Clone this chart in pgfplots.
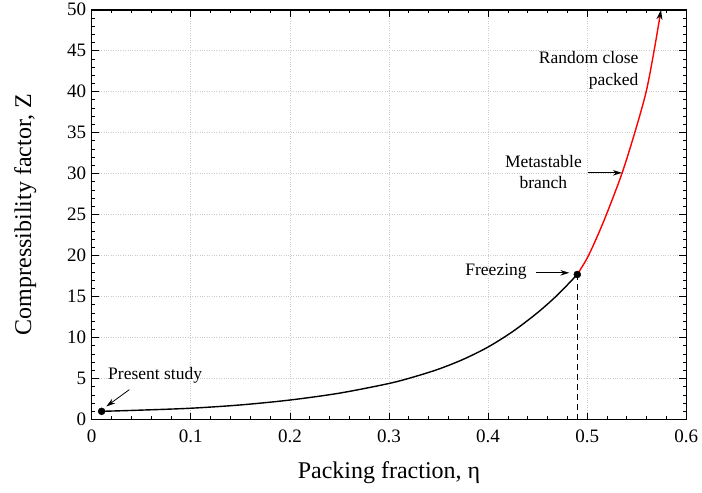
\documentclass[border=0pt]{standalone}
\usepackage{fontspec}
\setmainfont{Liberation Serif}
\usepackage{pgfplots}
\pgfplotsset{compat=1.18}
\usetikzlibrary{arrows.meta}

\begin{document}
\begin{tikzpicture}
\begin{axis}[
  scale only axis,
  width=594.6pt, height=409.8pt,
  xmin=0, xmax=0.6, ymin=0, ymax=50,
  xtick={0,0.1,0.2,0.3,0.4,0.5,0.6},
  ytick={0,5,10,15,20,25,30,35,40,45,50},
  minor x tick num=4, minor y tick num=4,
  tick align=inside,
  grid=major,
  major grid style={dotted, gray!40, line width=0.6pt},
  axis line style={line width=1.6pt},
  major tick length=7pt, minor tick length=3.5pt,
  every tick/.style={black, line width=0.8pt},
  /pgf/number format/assume math mode=true,
  tick label style={font=\fontsize{19}{19}\selectfont},
  xticklabel style={/pgf/number format/fixed, /pgf/number format/precision=1, yshift=-7pt},
  yticklabel style={xshift=-2pt},
  label style={font=\fontsize{24}{24}\selectfont},
  xlabel={Packing fraction, η},
  ylabel={Compressibility factor, Z},
  xlabel style={at={(axis description cs:0.5,-0.1432)}, anchor=base},
  ylabel style={at={(axis description cs:-0.102,0.5)}, anchor=base, rotate=0},
  clip=false,
]
% stable fluid branch
\addplot[black, line width=1.4pt, smooth] coordinates {
  (0.01,1.0) (0.05,1.15) (0.1,1.38) (0.15,1.78) (0.2,2.38) (0.25,3.22)
  (0.3,4.4) (0.325,5.2) (0.35,6.15) (0.375,7.35) (0.4,8.85) (0.425,10.75)
  (0.45,13.05) (0.47,15.2) (0.49,17.7)
};
% metastable branch
\addplot[red, line width=1.4pt, smooth, -{Stealth[length=10pt,width=6pt,color=black]}] coordinates {
  (0.49,17.7) (0.50,19.7) (0.51,22.3) (0.52,25.2) (0.535,30) (0.548,35)
  (0.5595,40) (0.5675,45) (0.5745,50)
};
% freezing line
\addplot[black, line width=1.3pt, dash pattern=on 6pt off 4pt] coordinates {(0.49,0) (0.49,17.7)};
% marked points
\addplot[only marks, mark=*, mark size=3.5pt, black] coordinates {(0.01,1.0) (0.49,17.7)};

\node[font=\fontsize{17.5}{21}\selectfont] at (axis cs:0.064,5.35) {Present study};
\draw[-{Stealth[length=9pt,width=5.5pt]}, line width=0.8pt] (axis cs:0.038,3.65) -- (axis cs:0.0148,1.6);
\node[font=\fontsize{17.5}{21}\selectfont] at (axis cs:0.408,18.1) {Freezing};
\draw[-{Stealth[length=9pt,width=5.5pt]}, line width=0.8pt] (axis cs:0.4484,17.9) -- (axis cs:0.482,17.9);
\node[font=\fontsize{17.5}{21}\selectfont, align=center] at (axis cs:0.4558,30.2) {Metastable\\branch};
\draw[-{Stealth[length=9pt,width=5.5pt]}, line width=0.8pt] (axis cs:0.5005,30.1) -- (axis cs:0.535,30.1);
\node[font=\fontsize{17.5}{22}\selectfont, align=right, anchor=east] at (axis cs:0.5553,42.6) {Random close\\packed};
\end{axis}
\path ([xshift=-91.7pt,yshift=-72.7pt]current axis.south west) rectangle ([xshift=15.7pt,yshift=7.5pt]current axis.north east);
\end{tikzpicture}
\end{document}
